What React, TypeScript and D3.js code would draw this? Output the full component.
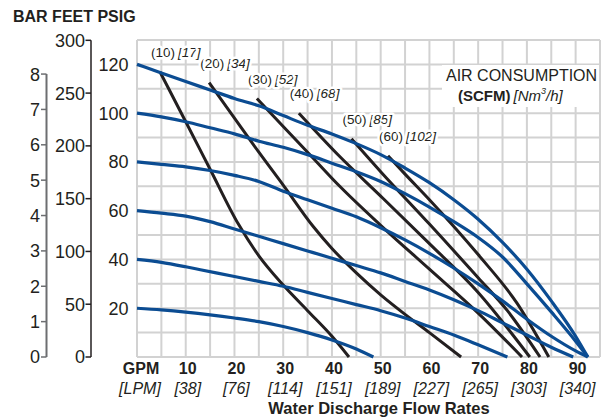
import React from 'react';
import * as d3 from 'd3';

// ---------- data ----------
const gpmTicks = [10, 20, 30, 40, 50, 60, 70, 80, 90];
const lpmTicks = ['38', '76', '114', '151', '189', '227', '265', '303', '340'];
const barTicks = [0, 1, 2, 3, 4, 5, 6, 7, 8];
const feetTicks = [0, 50, 100, 150, 200, 250, 300];
const psigTicks = [20, 40, 60, 80, 100, 120];

// performance curves by air inlet pressure (GPM, PSIG head)
const psi120: [number, number][] = [[0,120],[5,116.5],[10,113],[15,109.5],[20,106],[25,103],[30,99],[35,95],[40,91.5],[45,87.5],[50,83],[55,77.5],[60,71.5],[65,64.5],[70,56.5],[75,47],[80,36],[85,23],[90,8.5],[92.5,0]];
const psi100: [number, number][] = [[0,100],[5,98.5],[10,96.5],[15,94],[20,91.5],[25,88.5],[30,86],[35,83],[40,79.5],[45,76],[50,72],[55,67],[60,61.5],[65,55.5],[70,49],[75,41],[80,30],[85,18.5],[90,6.5],[92.5,0]];
const psi80: [number, number][] = [[0,80],[5,79],[10,78],[15,76.5],[20,74.5],[25,72],[30,68],[35,64.5],[40,61],[45,57.5],[50,53],[55,48],[60,42.5],[65,36.5],[70,30],[75,23],[80,15.5],[85,8.5],[90,2.5],[92.5,0]];
const psi60: [number, number][] = [[0,60],[5,59],[10,57.8],[15,55.5],[20,52.5],[25,49.5],[30,46.5],[35,43.5],[40,40.5],[45,37.5],[50,34.5],[55,31],[60,27.5],[65,23.5],[70,19],[75,14],[80,9],[85,4],[89.5,0]];
const psi40: [number, number][] = [[0,40],[5,38.8],[10,37],[13,35.8],[20,33],[25,31],[30,29],[35,26.5],[40,24],[45,21.5],[50,19],[55,16],[60,12.5],[65,9],[70,5],[76,0]];
const psi20: [number, number][] = [[0,20],[5,19.3],[10,18.4],[15,17.3],[20,16],[25,14.5],[30,12.5],[35,10],[40,7],[45,3.3],[48.5,0]];

// air consumption curves (GPM, PSIG head)
const scfm10: [number, number][] = [[4.7,117],[10,96.5],[15,77],[20.8,54.5],[25,41.5],[30,29.5],[35,19],[40,8.5],[43.5,0]];
const scfm20: [number, number][] = [[14.8,112.5],[20,98],[25,84],[30,70.5],[36.2,53.4],[40,44.5],[45,34.5],[50,25.5],[55,17.5],[60,10],[66.5,0]];
const scfm30: [number, number][] = [[24.6,106],[30,94.5],[35,84],[41.6,70],[50,54],[60,36],[70,18],[79,0]];
const scfm40: [number, number][] = [[33.2,100],[41.6,82.2],[50,66],[60,46.5],[70,26.5],[80.6,0]];
const scfm50: [number, number][] = [[44,89.5],[50,76],[60,54.5],[70,32.5],[76,19],[82.7,0]];
const scfm60: [number, number][] = [[51.5,82.5],[55,75],[60,64.5],[70,42],[78,22],[84.5,0]];

const scfmValues = ['10', '20', '30', '40', '50', '60'];
const nm3Values = ['17', '34', '52', '68', '85', '102'];

const pressureCurves = [psi20, psi40, psi60, psi80, psi100, psi120];
const airCurves = [scfm10, scfm20, scfm30, scfm40, scfm50, scfm60];

// ---------- chart ----------
const W = 615;
const H = 418;
const FONT = '"Liberation Sans", Arial, Helvetica, sans-serif';
const BLUE = '#0b4c92';
const BLACK = '#231f20';
const GRID = '#d2d2d2';

export default function App() {
  const x = d3.scaleLinear().domain([0, 95]).range([137, 600]);
  const y = d3.scaleLinear().domain([0, 130]).range([357, 40]);
  const line = d3
    .line<[number, number]>()
    .x((d) => x(d[0]))
    .y((d) => y(d[1]))
    .curve(d3.curveMonotoneX);

  const vGrid = d3.range(0, 96, 5);
  const hGrid = d3.range(0, 131, 10);
  const psiPerBar = 14.5038;
  const ftPerPsi = 2.31;

  return (
    <svg
      width={W}
      height={H}
      viewBox={`0 0 ${W} ${H}`}
      style={{ position: 'absolute', left: 0, top: 0, background: '#fff', fontFamily: FONT }}
    >
      {/* header */}
      <text x={13} y={22} fontSize={16} fontWeight="bold" fill="#231f20">
        BAR FEET PSIG
      </text>

      {/* grid */}
      <g stroke={GRID} strokeWidth={2}>
        {vGrid.map((g) => (
          <line key={'v' + g} x1={x(g)} x2={x(g)} y1={y(130)} y2={y(0)} />
        ))}
        {hGrid.map((g) => (
          <line key={'h' + g} x1={x(0)} x2={x(95)} y1={y(g)} y2={y(g)} />
        ))}
      </g>

      {/* BAR axis */}
      <line x1={46.5} x2={46.5} y1={y(8 * psiPerBar)} y2={y(0)} stroke="#6d6e71" strokeWidth={2} />
      {barTicks.map((b) => (
        <g key={'b' + b}>
          <line x1={41} x2={46.5} y1={y(b * psiPerBar)} y2={y(b * psiPerBar)} stroke="#6d6e71" strokeWidth={1.5} />
          <text x={40} y={y(b * psiPerBar)} dy="0.36em" textAnchor="end" fontSize={18} fill="#231f20">
            {b}
          </text>
        </g>
      ))}

      {/* FEET axis */}
      <line x1={91} x2={91} y1={y(300 / ftPerPsi)} y2={y(0)} stroke="#231f20" strokeWidth={1.5} />
      {feetTicks.map((f) => (
        <g key={'f' + f}>
          <line x1={85.5} x2={91} y1={y(f / ftPerPsi)} y2={y(f / ftPerPsi)} stroke="#231f20" strokeWidth={1.5} />
          <text x={85} y={y(f / ftPerPsi)} dy="0.36em" textAnchor="end" fontSize={18} fill="#231f20">
            {f}
          </text>
        </g>
      ))}

      {/* PSIG labels */}
      {psigTicks.map((p) => (
        <text key={'p' + p} x={128.5} y={y(p)} dy="0.36em" textAnchor="end" fontSize={18} fill="#231f20">
          {p}
        </text>
      ))}

      {/* x axis labels */}
      <text x={141} y={374} textAnchor="middle" fontSize={16} fontWeight="bold" fill="#231f20">GPM</text>
      <text x={140} y={394} textAnchor="middle" fontSize={16} fontStyle="italic" fill="#231f20">[LPM]</text>
      {gpmTicks.map((g, i) => (
        <g key={'g' + g}>
          <text x={x(g) + 2} y={374} textAnchor="middle" fontSize={16} fontWeight="bold" fill="#231f20">
            {g}
          </text>
          <text x={x(g) + 2} y={394} textAnchor="middle" fontSize={16} fontStyle="italic" fill="#231f20">
            [{lpmTicks[i]}]
          </text>
        </g>
      ))}
      <text x={379} y={414} textAnchor="middle" fontSize={16.5} fontWeight="bold" fill="#231f20">
        Water Discharge Flow Rates
      </text>

      {/* legend box */}
      <rect x={442} y={65} width={157} height={42} fill="#fff" />
      <text x={446} y={81} fontSize={16} fill="#231f20">AIR CONSUMPTION</text>
      <text x={458} y={101} fontSize={15} fill="#231f20">
        <tspan fontWeight="bold">(SCFM)</tspan>
        <tspan fontStyle="italic" dx={3}>[Nm</tspan>
        <tspan fontStyle="italic" fontSize={9} dy={-7}>3</tspan>
        <tspan fontStyle="italic" dy={7}>/h]</tspan>
      </text>

      {/* air consumption curve labels */}
      {airCurves.map((c, i) => (
        <text
          key={'l' + i}
          x={x(c[0][0]) - 9}
          y={y(c[0][1]) - 15}
          fontSize={13.5}
          fill="#231f20"
          stroke="#fff"
          strokeWidth={5}
          paintOrder="stroke"
          strokeLinejoin="round"
        >
          <tspan>({scfmValues[i]})</tspan>
          <tspan fontStyle="italic" dx={3}>[{nm3Values[i]}]</tspan>
        </text>
      ))}

      {/* air consumption curves */}
      {airCurves.map((c, i) => (
        <path key={'a' + i} d={line(c) || ''} fill="none" stroke={BLACK} strokeWidth={3} />
      ))}

      {/* pressure curves */}
      {pressureCurves.map((c, i) => (
        <path key={'c' + i} d={line(c) || ''} fill="none" stroke={BLUE} strokeWidth={3.2} />
      ))}
    </svg>
  );
}
